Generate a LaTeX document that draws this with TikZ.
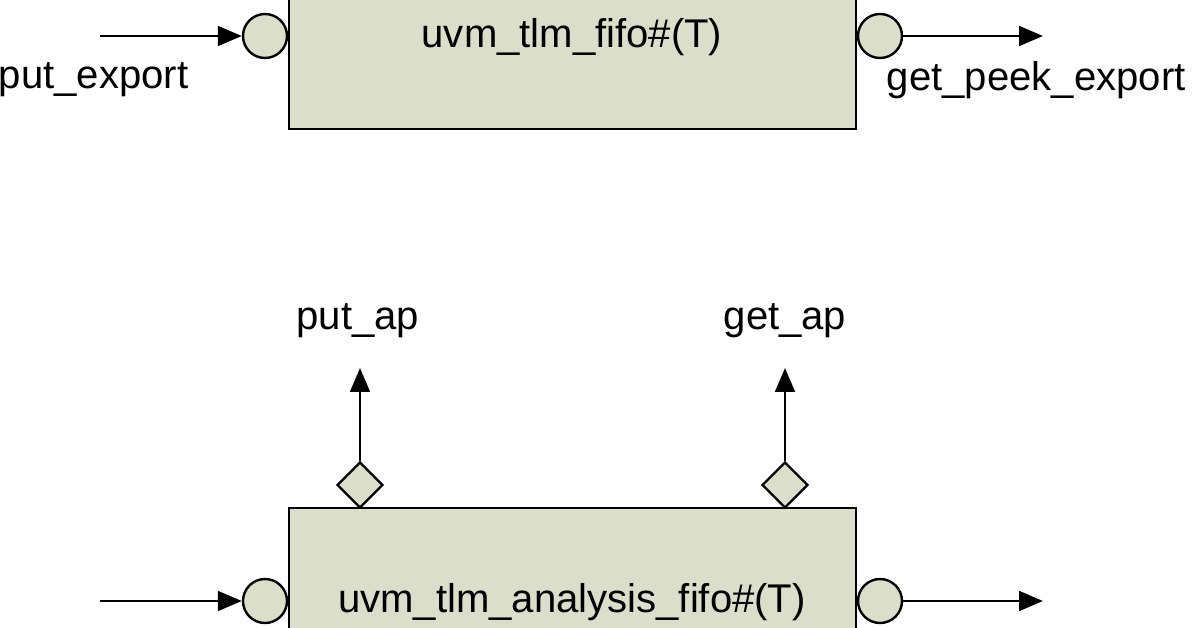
\documentclass[tikz,border=0pt]{standalone}
\usepackage{fontspec}
\setmainfont{Liberation Sans}
\usetikzlibrary{shapes.geometric,arrows.meta}
\definecolor{boxfill}{RGB}{218,222,202}
\begin{document}
\begin{tikzpicture}[x=0.025cm,y=-0.025cm,
  box/.style={draw,line width=1.9pt,fill=boxfill},
  port/.style={circle,draw,line width=1.7pt,fill=boxfill,minimum size=44*0.025cm,inner sep=0},
  ap/.style={diamond,draw,line width=1.7pt,fill=boxfill,minimum size=46*0.025cm,inner sep=0},
  arr/.style={line width=1.9pt,-{Triangle[length=17pt,width=14pt]}},
  lbl/.style={font=\fontsize{28.5}{33}\selectfont}]
\useasboundingbox (0,0) rectangle (1200,628);
\begin{scope}
\clip (0,0) rectangle (1200,628);
\draw[box] (289,-20) rectangle (856,129);
\node[lbl] (t1) at (572,37) {uvm\_tlm\_fifo\#(T)};
\node[port] (p1) at (265,36) {};
\node[port] (g1) at (880,36) {};
\coordinate (s1) at (100,36);
\coordinate (e1) at (1043,36);
\draw[arr] (s1) -- (p1);
\draw[arr] (g1) -- (e1);
\node[lbl,anchor=west] (l1) at (-6,80) {put\_export};
\node[lbl,anchor=west] (l2) at (882,80) {get\_peek\_export};

\draw[box] (289,508) rectangle (856,700);
\node[lbl] (t2) at (572,602) {uvm\_tlm\_analysis\_fifo\#(T)};
\node[ap] (d1) at (360,485) {};
\node[ap] (d2) at (785,485) {};
\node[port] (p2) at (265,601) {};
\node[port] (g2) at (880,601) {};
\coordinate (s2) at (100,601);
\coordinate (e2) at (1043,601);
\draw[arr] (s2) -- (p2);
\draw[arr] (g2) -- (e2);
\coordinate (u1) at (360,368);
\coordinate (u2) at (785,368);
\draw[arr] (d1) -- (u1);
\draw[arr] (d2) -- (u2);
\node[lbl] (a1) at (358,321) {put\_ap};
\node[lbl] (a2) at (785,321) {get\_ap};
\end{scope}
\end{tikzpicture}
\end{document}
